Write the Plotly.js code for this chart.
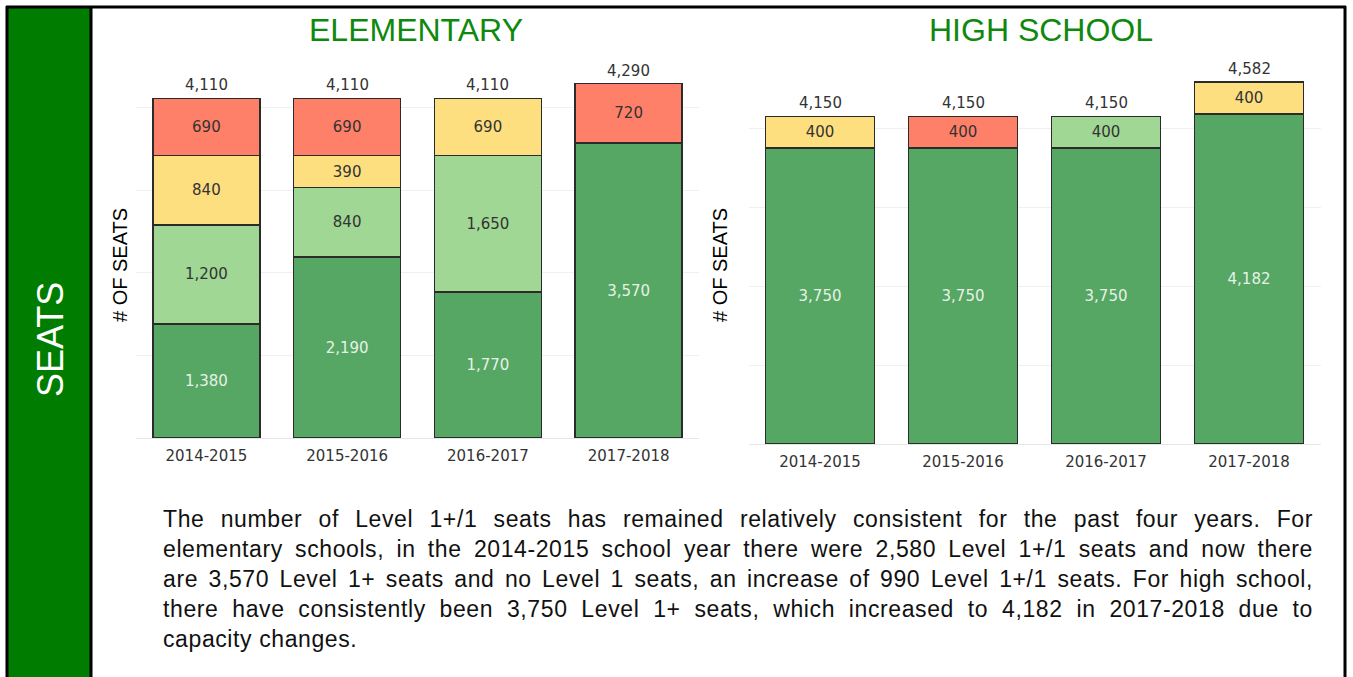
<!DOCTYPE html>
<html>
<head>
<meta charset="utf-8">
<script src="https://cdn.plot.ly/plotly-3.0.1.min.js"></script>
<style>
  html, body { margin:0; padding:0; background:#fff; }
  #wrap { position:relative; width:1353px; height:677px; overflow:hidden; }
  #chart { position:absolute; left:0; top:0; width:1353px; height:677px; }
  #para { position:absolute; left:163px; top:504px; width:1150px;
          font-family:"Liberation Sans", Arial, sans-serif; font-size:23px; line-height:30px; color:#111;
          letter-spacing:0.6px; }
  #para div { text-align:justify; text-align-last:justify; white-space:normal; }
  #para div.last { text-align-last:left; }
</style>
</head>
<body>
<div id="wrap">
<div id="chart"></div>
<div id="para">
<div>The number of Level 1+/1 seats has remained relatively consistent for the past four years. For</div>
<div>elementary schools, in the 2014-2015 school year there were 2,580 Level 1+/1 seats and now there</div>
<div>are 3,570 Level 1+ seats and no Level 1 seats, an increase of 990 Level 1+/1 seats. For high school,</div>
<div>there have consistently been 3,750 Level 1+ seats, which increased to 4,182 in 2017-2018 due to</div>
<div class="last">capacity changes.</div>
</div>
</div>
<script>
// ---- data ----
const years = ['2014-2015','2015-2016','2016-2017','2017-2018'];

const elemLevel1Plus = [1380, 2190, 1770, 3570];
const elemLevel1     = [1200,  840, 1650, null];
const elemLevel2     = [ 840,  390,  690, null];
const elemLevel3     = [ 690,  690, null,  720];

const hsLevel1Plus = [3750, 3750, 3750, 4182];
const hsLevel1     = [null, null,  400, null];
const hsLevel2     = [ 400, null, null,  400];
const hsLevel3     = [null,  400, null, null];

// ---- styling ----
const W = 1353, H = 677;
const fx = p => p / W;
const fy = p => 1 - p / H;

const COL = {
  l1p: '#56A664',
  l1:  '#A0D795',
  l2:  '#FEDF80',
  l3:  '#FF8068'
};
const numFont = 'DejaVu Sans, Verdana, sans-serif';
const condFont = '"Liberation Sans Narrow", "Liberation Sans", Arial, sans-serif';

function sumArrays(...arrs) {
  return arrs[0].map((_, i) => arrs.reduce((s, a) => s + (a[i] || 0), 0));
}

function barTrace(y, color, textColor, xa, ya) {
  return {
    type: 'bar', x: years, y: y, xaxis: xa, yaxis: ya,
    marker: { color: color, line: { color: '#2b2b2b', width: 1.5 } },
    texttemplate: '%{y:,.0f}', textposition: 'inside', insidetextanchor: 'middle',
    textangle: 0, constraintext: 'none',
    textfont: { family: numFont, size: 15, color: textColor },
    hoverinfo: 'skip', showlegend: false
  };
}

function totalAnnotations(tot, xa, ya) {
  return tot.map((v, i) => ({
    x: years[i], y: v, xref: xa, yref: ya, xanchor: 'center', yanchor: 'bottom', yshift: 2,
    text: v.toLocaleString('en-US'), showarrow: false,
    font: { family: numFont, size: 15, color: '#333' }
  }));
}

const elemTotal = sumArrays(elemLevel1Plus, elemLevel1, elemLevel2, elemLevel3);
const hsTotal = sumArrays(hsLevel1Plus, hsLevel1, hsLevel2, hsLevel3);

const darkTxt = '#333333', lightTxt = '#E6F2E6';

const data = [
  barTrace(elemLevel1Plus, COL.l1p, lightTxt, 'x', 'y'),
  barTrace(elemLevel1, COL.l1, darkTxt, 'x', 'y'),
  barTrace(elemLevel2, COL.l2, darkTxt, 'x', 'y'),
  barTrace(elemLevel3, COL.l3, darkTxt, 'x', 'y'),
  barTrace(hsLevel1Plus, COL.l1p, lightTxt, 'x2', 'y2'),
  barTrace(hsLevel1, COL.l1, darkTxt, 'x2', 'y2'),
  barTrace(hsLevel2, COL.l2, darkTxt, 'x2', 'y2'),
  barTrace(hsLevel3, COL.l3, darkTxt, 'x2', 'y2')
];

const xCommon = {
  type: 'category', showgrid: false, showline: false, ticks: '', zeroline: false,
  ticklabelstandoff: 7,
  tickfont: { family: numFont, size: 15, color: '#333' }, fixedrange: true
};
const yCommon = {
  showticklabels: false, ticks: '', dtick: 1000, showgrid: true, gridcolor: '#F0F0F0', gridwidth: 1,
  zeroline: true, zerolinecolor: '#E6E6E6', zerolinewidth: 1, showline: false, fixedrange: true
};

const layout = {
  width: W, height: H,
  margin: { l: 0, r: 0, t: 0, b: 0 },
  paper_bgcolor: '#ffffff', plot_bgcolor: '#ffffff',
  barmode: 'stack', bargap: 0.24, showlegend: false,
  xaxis: Object.assign({}, xCommon, { domain: [fx(136), fx(699)], anchor: 'y' }),
  yaxis: Object.assign({}, yCommon, { domain: [fy(438), fy(58)], range: [0, 4600], anchor: 'x' }),
  xaxis2: Object.assign({}, xCommon, { domain: [fx(748.5), fx(1320.5)], anchor: 'y2' }),
  yaxis2: Object.assign({}, yCommon, { domain: [fy(444), fy(65)], range: [0, 4800], anchor: 'x2' }),
  shapes: [
    { type: 'rect', xref: 'paper', yref: 'paper', x0: fx(8), x1: fx(90), y0: 0, y1: fy(8),
      fillcolor: '#007D00', line: { width: 0 }, layer: 'below' },
    { type: 'line', xref: 'paper', yref: 'paper', x0: fx(7), x1: fx(7), y0: 0, y1: fy(6), line: { color: '#000', width: 3 } },
    { type: 'line', xref: 'paper', yref: 'paper', x0: fx(6), x1: fx(1346), y0: fy(7), y1: fy(7), line: { color: '#000', width: 3 } },
    { type: 'line', xref: 'paper', yref: 'paper', x0: fx(1345), x1: fx(1345), y0: 0, y1: fy(6), line: { color: '#000', width: 3 } },
    { type: 'line', xref: 'paper', yref: 'paper', x0: fx(91), x1: fx(91), y0: 0, y1: fy(6), line: { color: '#000', width: 3 } }
  ],
  annotations: [
    { text: 'ELEMENTARY', xref: 'paper', yref: 'paper', x: fx(416), y: fy(30), xanchor: 'center', yanchor: 'middle',
      showarrow: false, font: { family: condFont, size: 32, color: '#0E890E' } },
    { text: 'HIGH SCHOOL', xref: 'paper', yref: 'paper', x: fx(1041), y: fy(30), xanchor: 'center', yanchor: 'middle',
      showarrow: false, font: { family: condFont, size: 32, color: '#0E890E' } },
    { text: '# OF SEATS', xref: 'paper', yref: 'paper', x: fx(120), y: fy(265), xanchor: 'center', yanchor: 'middle',
      textangle: -90, showarrow: false, font: { family: '"Liberation Sans", Arial, sans-serif', size: 20, color: '#000' } },
    { text: '# OF SEATS', xref: 'paper', yref: 'paper', x: fx(720), y: fy(265), xanchor: 'center', yanchor: 'middle',
      textangle: -90, showarrow: false, font: { family: '"Liberation Sans", Arial, sans-serif', size: 20, color: '#000' } },
    { text: 'SEATS', xref: 'paper', yref: 'paper', x: fx(50), y: fy(340), xanchor: 'center', yanchor: 'middle',
      textangle: -90, showarrow: false, font: { family: condFont, size: 36, color: '#ffffff' } }
  ].concat(totalAnnotations(elemTotal, 'x', 'y'), totalAnnotations(hsTotal, 'x2', 'y2'))
};

Plotly.newPlot('chart', data, layout, { displayModeBar: false, staticPlot: true });
</script>
</body>
</html>
